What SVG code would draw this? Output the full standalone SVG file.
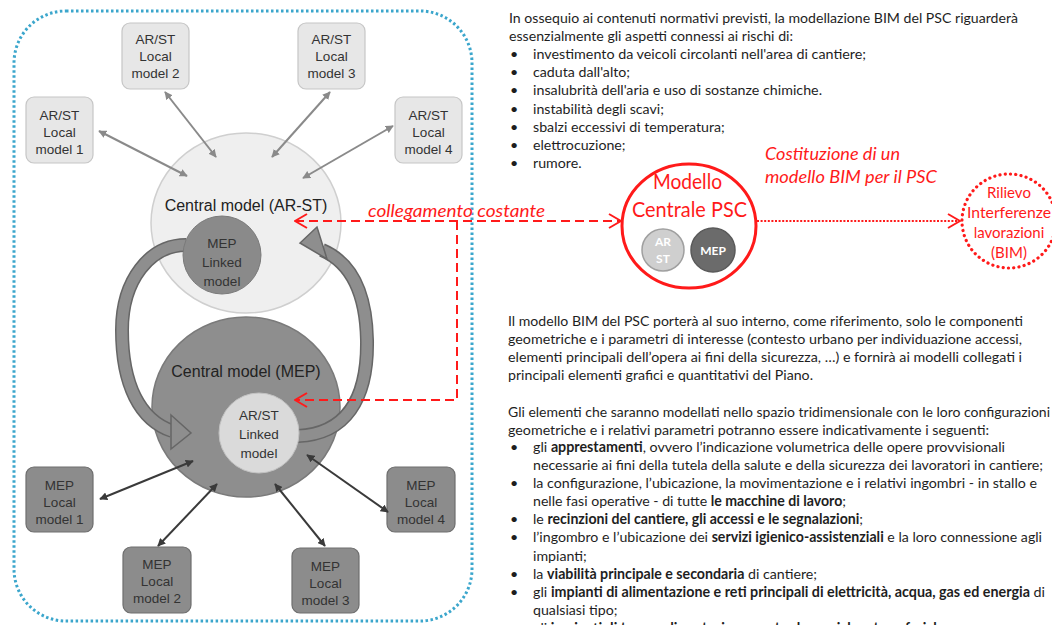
<svg xmlns="http://www.w3.org/2000/svg" width="1052" height="625" viewBox="0 0 1052 625">
<defs>
<style>
.lt{font-family:"Liberation Sans",Arial,sans-serif;font-size:13.5px;fill:#333;text-anchor:middle}
.ct{font-family:"Liberation Sans",Arial,sans-serif;font-size:16px;fill:#222;text-anchor:middle}
.bx1{fill:#e7e7e7;stroke:#c6c6c6;stroke-width:1.2}
.bx2{fill:#8c8c8c;stroke:#6e6e6e;stroke-width:1.2}
.tx{font-family:Lato,"Liberation Sans",sans-serif;font-size:14.2px;fill:#1e1e1e}
.b{font-weight:bold}
.rd{font-family:Lato,"Liberation Sans",sans-serif;fill:#ff1a1a}
.it{font-style:italic;font-size:17px}
.c1{stroke:#8a8a8a;stroke-width:2;fill:none;marker-start:url(#ga);marker-end:url(#ga)}
.c2{stroke:#3a3a3a;stroke-width:2;fill:none;marker-start:url(#gb);marker-end:url(#gb)}
.band{fill:none;stroke:#666666;stroke-width:14}
.bandi{fill:none;stroke:#8e8e8e;stroke-width:11}
.head{fill:#8e8e8e;stroke:#666666;stroke-width:1.5}
.dash{fill:none;stroke:#ff1a1a;stroke-width:2;stroke-dasharray:9 5}
</style>
<marker id="ga" viewBox="0 0 10 10" refX="9" refY="5" markerWidth="4" markerHeight="4" orient="auto-start-reverse"><path d="M0,0 L10,5 L0,10 z" fill="#8a8a8a"/></marker>
<marker id="gb" viewBox="0 0 10 10" refX="9" refY="5" markerWidth="4" markerHeight="4" orient="auto-start-reverse"><path d="M0,0 L10,5 L0,10 z" fill="#3a3a3a"/></marker>
<marker id="ra" viewBox="0 0 14 16" refX="13" refY="8" markerWidth="14" markerHeight="16" markerUnits="userSpaceOnUse" orient="auto-start-reverse"><path d="M1,1 L13,8 L1,15" fill="none" stroke="#ff1a1a" stroke-width="2" stroke-dasharray="none"/></marker>
</defs>
<rect width="1052" height="625" fill="#ffffff"/>

<!-- blue dotted frame -->
<rect x="14" y="11" width="458" height="610" rx="52" ry="52" fill="none" stroke="#3ba6cc" stroke-width="3" stroke-dasharray="2.5 2.5"/>

<g id="central-arst"><ellipse cx="246" cy="223" rx="95" ry="90" fill="#efefef" stroke="#cfcfcf" stroke-width="1.5"/>
<text class="ct" x="246" y="211">Central model (AR-ST)</text></g>
<g id="central-mep"><ellipse cx="246" cy="407" rx="94" ry="90" fill="#8e8e8e" stroke="#7a7a7a" stroke-width="1.5"/>
<text class="ct" x="246" y="377">Central model (MEP)</text></g>

<g id="cycle-arrows">
<path class="band" d="M186,245 C150,245 122,280 122,330 C122,385 140,420 172,431"/>
<path class="bandi" d="M186,245 C150,245 122,280 122,330 C122,385 140,420 172,431"/>
<polygon class="head" points="171,415 191,433 171,449"/>
<path class="band" d="M298,436 C345,434 368,400 367,340 C366,290 350,262 322,250"/>
<path class="bandi" d="M298,436 C345,434 368,400 367,340 C366,290 350,262 322,250"/>
<polygon class="head" points="317,227 300,243 327,259"/>
</g>

<g id="mep-linked"><circle cx="222" cy="255" r="39" fill="#8a8a8a" stroke="#7a7a7a"/>
<text class="lt" x="222" y="248">MEP</text><text class="lt" x="222" y="267">Linked</text><text class="lt" x="222" y="286">model</text></g>
<g id="arst-linked"><circle cx="259" cy="433" r="40" fill="#dadada" stroke="#c2c2c2"/>
<text class="lt" x="259" y="420">AR/ST</text><text class="lt" x="259" y="439">Linked</text><text class="lt" x="259" y="458">model</text></g>

<g id="arst-local-1"><rect class="bx1" x="26" y="97" width="67" height="66" rx="8"/>
<text class="lt" x="59.5" y="120">AR/ST</text><text class="lt" x="59.5" y="137">Local</text><text class="lt" x="59.5" y="154">model 1</text></g>
<g id="arst-local-2"><rect class="bx1" x="122" y="23" width="67" height="66" rx="8"/>
<text class="lt" x="155.5" y="44">AR/ST</text><text class="lt" x="155.5" y="61">Local</text><text class="lt" x="155.5" y="78">model 2</text></g>
<g id="arst-local-3"><rect class="bx1" x="298" y="23" width="67" height="66" rx="8"/>
<text class="lt" x="331.5" y="44">AR/ST</text><text class="lt" x="331.5" y="61">Local</text><text class="lt" x="331.5" y="78">model 3</text></g>
<g id="arst-local-4"><rect class="bx1" x="395" y="97" width="67" height="66" rx="8"/>
<text class="lt" x="428.5" y="120">AR/ST</text><text class="lt" x="428.5" y="137">Local</text><text class="lt" x="428.5" y="154">model 4</text></g>

<g id="mep-local-1"><rect class="bx2" x="26" y="467" width="67" height="65" rx="8"/>
<text class="lt" x="59.5" y="490">MEP</text><text class="lt" x="59.5" y="507">Local</text><text class="lt" x="59.5" y="524">model 1</text></g>
<g id="mep-local-2"><rect class="bx2" x="123" y="547" width="68" height="66" rx="8"/>
<text class="lt" x="157" y="569">MEP</text><text class="lt" x="157" y="586">Local</text><text class="lt" x="157" y="603">model 2</text></g>
<g id="mep-local-3"><rect class="bx2" x="292" y="548" width="67" height="65" rx="8"/>
<text class="lt" x="325.5" y="571">MEP</text><text class="lt" x="325.5" y="588">Local</text><text class="lt" x="325.5" y="605">model 3</text></g>
<g id="mep-local-4"><rect class="bx2" x="387" y="467" width="68" height="65" rx="8"/>
<text class="lt" x="421" y="490">MEP</text><text class="lt" x="421" y="507">Local</text><text class="lt" x="421" y="524">model 4</text></g>

<g id="connectors">
<line class="c1" x1="99" y1="131" x2="187" y2="176"/>
<line class="c1" x1="165" y1="92" x2="216" y2="157"/>
<line class="c1" x1="330" y1="92" x2="272" y2="157"/>
<line class="c1" x1="393" y1="126" x2="303" y2="178"/>
<line class="c2" x1="100" y1="499" x2="193" y2="461"/>
<line class="c2" x1="158" y1="546" x2="217" y2="484"/>
<line class="c2" x1="325" y1="546" x2="275" y2="484"/>
<line class="c2" x1="388" y1="512" x2="307" y2="455"/>
<line class="dash" x1="295" y1="221" x2="621" y2="221" marker-start="url(#ra)" marker-end="url(#ra)"/>
<path class="dash" d="M457,221 V400 H295" marker-end="url(#ra)"/>
<line x1="757" y1="221" x2="960" y2="221" stroke="#ff1a1a" stroke-width="2" stroke-dasharray="2 1.6" marker-end="url(#ra)"/>
</g>
<text class="rd it" x="368" y="217" font-size="18" textLength="177" lengthAdjust="spacingAndGlyphs">collegamento costante</text>

<g id="modello-centrale">
<ellipse cx="689" cy="226" rx="67" ry="62" fill="#ffffff" stroke="#ff1a1a" stroke-width="3"/>
<text class="rd" x="653" y="189" font-size="21" textLength="69" lengthAdjust="spacingAndGlyphs">Modello</text>
<text class="rd" x="632" y="217" font-size="21" textLength="115" lengthAdjust="spacingAndGlyphs">Centrale PSC</text>
<circle cx="663" cy="250" r="21" fill="#cfcfcf" stroke="#a0a0a0" stroke-width="1.5"/>
<text x="663" y="246" font-family="Lato,'Liberation Sans',sans-serif" font-size="12" font-weight="bold" fill="#ffffff" text-anchor="middle">AR</text>
<text x="663" y="263" font-family="Lato,'Liberation Sans',sans-serif" font-size="12" font-weight="bold" fill="#ffffff" text-anchor="middle">ST</text>
<circle cx="713" cy="250" r="22" fill="#6b6b6b" stroke="#5a5a5a" stroke-width="1.5"/>
<text x="713" y="255" font-family="Lato,'Liberation Sans',sans-serif" font-size="12" font-weight="bold" fill="#ffffff" text-anchor="middle">MEP</text>
</g>
<text class="rd it" x="765" y="160" textLength="135" lengthAdjust="spacingAndGlyphs">Costituzione di un</text>
<text class="rd it" x="765" y="183" textLength="172" lengthAdjust="spacingAndGlyphs">modello BIM per il PSC</text>

<g id="rilievo">
<circle cx="1009" cy="221" r="47" fill="#ffffff" stroke="#ff1a1a" stroke-width="3.2" stroke-linecap="round" stroke-dasharray="0.1 5.2"/>
<g class="rd" font-size="15" text-anchor="middle">
<text x="1009" y="198">Rilievo</text><text x="1009" y="218" textLength="84" lengthAdjust="spacingAndGlyphs">Interferenze</text><text x="1009" y="238">lavorazioni</text><text x="1009" y="258">(BIM)</text>
</g>
</g>

<g id="text-top" class="tx">
<text x="509" y="22.5" textLength="509" lengthAdjust="spacingAndGlyphs">In ossequio ai contenuti normativi previsti, la modellazione  BIM del PSC riguarderà</text>
<text x="509" y="40.7" textLength="284" lengthAdjust="spacingAndGlyphs">essenzialmente gli aspetti connessi ai rischi di:</text>
<text x="510" y="58.9">•</text><text x="533" y="58.9" textLength="333" lengthAdjust="spacingAndGlyphs">investimento da veicoli circolanti nell'area di cantiere;</text>
<text x="510" y="77.1">•</text><text x="533" y="77.1">caduta dall'alto;</text>
<text x="510" y="95.3">•</text><text x="533" y="95.3" textLength="289" lengthAdjust="spacingAndGlyphs">insalubrità dell'aria e uso di sostanze chimiche.</text>
<text x="510" y="113.5">•</text><text x="533" y="113.5">instabilità degli scavi;</text>
<text x="510" y="131.7">•</text><text x="533" y="131.7">sbalzi eccessivi di temperatura;</text>
<text x="510" y="149.9">•</text><text x="533" y="149.9">elettrocuzione;</text>
<text x="510" y="168.1">•</text><text x="533" y="168.1">rumore.</text>
</g>

<g id="text-bottom" class="tx">
<text x="508" y="326" textLength="515" lengthAdjust="spacingAndGlyphs">Il modello BIM del PSC porterà al suo interno, come riferimento, solo le componenti</text>
<text x="508" y="344" textLength="514" lengthAdjust="spacingAndGlyphs">geometriche e i parametri di interesse (contesto urbano per individuazione accessi,</text>
<text x="508" y="362" textLength="514" lengthAdjust="spacingAndGlyphs">elementi principali dell’opera ai fini della sicurezza, …) e fornirà ai modelli collegati i</text>
<text x="508" y="380" textLength="305" lengthAdjust="spacingAndGlyphs">principali elementi grafici e quantitativi del Piano.</text>
<text x="508" y="417" textLength="542" lengthAdjust="spacingAndGlyphs">Gli elementi che saranno modellati nello spazio tridimensionale con le loro configurazioni</text>
<text x="508" y="434.5" textLength="481" lengthAdjust="spacingAndGlyphs">geometriche e i relativi parametri potranno essere indicativamente i seguenti:</text>
<text x="510" y="452">•</text><text x="533" y="452" textLength="472" lengthAdjust="spacingAndGlyphs">gli <tspan class="b">apprestamenti</tspan>, ovvero l’indicazione volumetrica delle opere provvisionali</text>
<text x="533" y="470" textLength="510" lengthAdjust="spacingAndGlyphs">necessarie ai fini della tutela della salute e della sicurezza dei lavoratori in cantiere;</text>
<text x="510" y="488">•</text><text x="533" y="488" textLength="504" lengthAdjust="spacingAndGlyphs">la configurazione, l’ubicazione, la movimentazione e i relativi ingombri - in stallo e</text>
<text x="533" y="506" textLength="313" lengthAdjust="spacingAndGlyphs">nelle fasi operative - di tutte <tspan class="b">le macchine di lavoro</tspan>;</text>
<text x="510" y="524">•</text><text x="533" y="524" textLength="330" lengthAdjust="spacingAndGlyphs">le <tspan class="b">recinzioni del cantiere, gli accessi e le segnalazioni</tspan>;</text>
<text x="510" y="542">•</text><text x="533" y="542" textLength="509" lengthAdjust="spacingAndGlyphs">l’ingombro e l’ubicazione dei <tspan class="b">servizi igienico-assistenziali</tspan> e la loro connessione agli</text>
<text x="533" y="560.5">impianti;</text>
<text x="510" y="578.5">•</text><text x="533" y="578.5" textLength="284" lengthAdjust="spacingAndGlyphs">la <tspan class="b">viabilità principale e secondaria</tspan> di cantiere;</text>
<text x="510" y="596.5">•</text><text x="533" y="596.5" textLength="512" lengthAdjust="spacingAndGlyphs">gli <tspan class="b">impianti di alimentazione e reti principali di elettricità, acqua, gas ed energia</tspan> di</text>
<text x="533" y="614.5">qualsiasi tipo;</text>
<text x="510" y="633">•</text><text x="533" y="633">gli <tspan class="b">impianti di terra e di protezione contro le scariche atmosferiche</tspan>;</text>
</g>
</svg>
